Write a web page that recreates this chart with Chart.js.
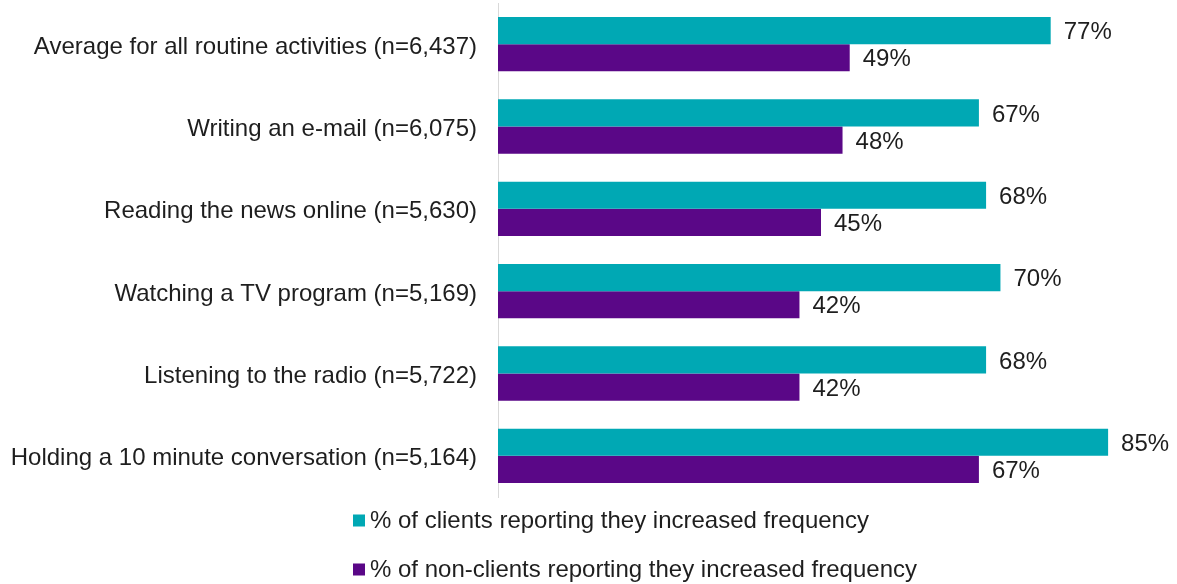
<!DOCTYPE html>
<html>
<head>
<meta charset="utf-8">
<script src="https://cdn.jsdelivr.net/npm/chart.js@4.4.1/dist/chart.umd.min.js"></script>
<style>
  html, body { margin: 0; padding: 0; background: #fff; }
  #wrap { width: 1177px; height: 584px; }
</style>
</head>
<body>
<div id="wrap"><canvas id="chart" width="1177" height="584"></canvas></div>
<script>
// Data
const categories = [
  'Average for all routine activities (n=6,437)',
  'Writing an e-mail (n=6,075)',
  'Reading the news online (n=5,630)',
  'Watching a TV program (n=5,169)',
  'Listening to the radio (n=5,722)',
  'Holding a 10 minute conversation (n=5,164)',
];
const clientValues = [77, 67, 68, 70, 68, 85];
const nonClientValues = [49, 48, 45, 42, 42, 67];
const seriesLabels = [
  '% of clients reporting they increased frequency',
  '% of non-clients reporting they increased frequency',
];

const colors = {
  client: '#00A8B4',
  nonClient: '#5A0787',
  text: '#1E1E1E',
  axis: '#D9D9D9',
};
const FONT = "'Liberation Sans', Arial, sans-serif";
const FONT_SIZE = 24;

// Value labels at the end of each bar
const valueLabels = {
  id: 'valueLabels',
  afterDatasetsDraw(chart) {
    const ctx = chart.ctx;
    ctx.save();
    ctx.font = `${FONT_SIZE}px ${FONT}`;
    ctx.fillStyle = colors.text;
    ctx.textAlign = 'left';
    ctx.textBaseline = 'middle';
    chart.data.datasets.forEach((ds, i) => {
      chart.getDatasetMeta(i).data.forEach((bar, j) => {
        ctx.fillText(ds.data[j] + '%', bar.x + 13, bar.y + 2);
      });
    });
    ctx.restore();
  },
};

// Two-row legend under the plot
const stackedLegend = {
  id: 'stackedLegend',
  afterDraw(chart) {
    const ctx = chart.ctx;
    const rows = [520.5, 569.5];
    ctx.save();
    ctx.font = `${FONT_SIZE}px ${FONT}`;
    ctx.textBaseline = 'middle';
    chart.data.datasets.forEach((ds, i) => {
      const y = rows[i];
      ctx.fillStyle = ds.backgroundColor;
      ctx.fillRect(353, y - 6, 12, 12);
      ctx.fillStyle = colors.text;
      ctx.fillText(ds.label, 370, y + 1);
    });
    ctx.restore();
  },
};

new Chart(document.getElementById('chart').getContext('2d'), {
  type: 'bar',
  data: {
    labels: categories,
    datasets: [
      { label: seriesLabels[0], data: clientValues, backgroundColor: colors.client },
      { label: seriesLabels[1], data: nonClientValues, backgroundColor: colors.nonClient },
    ],
  },
  options: {
    indexAxis: 'y',
    responsive: false,
    animation: false,
    categoryPercentage: 0.66,
    barPercentage: 1.0,
    layout: { padding: { top: 3, bottom: 87, left: 0, right: 33 } },
    plugins: {
      legend: { display: false },
      tooltip: { enabled: false },
    },
    scales: {
      x: {
        min: 0,
        max: 90,
        display: false,
      },
      y: {
        afterFit(scale) {
          scale.width = 498;
          scale.paddingTop = 0;
          scale.paddingBottom = 0;
        },
        grid: { display: false, drawTicks: false },
        border: { display: true, color: colors.axis, width: 1 },
        ticks: {
          color: colors.text,
          padding: 21,
          labelOffset: 3,
          font: { family: FONT, size: FONT_SIZE },
        },
      },
    },
  },
  plugins: [valueLabels, stackedLegend],
});
</script>
</body>
</html>
